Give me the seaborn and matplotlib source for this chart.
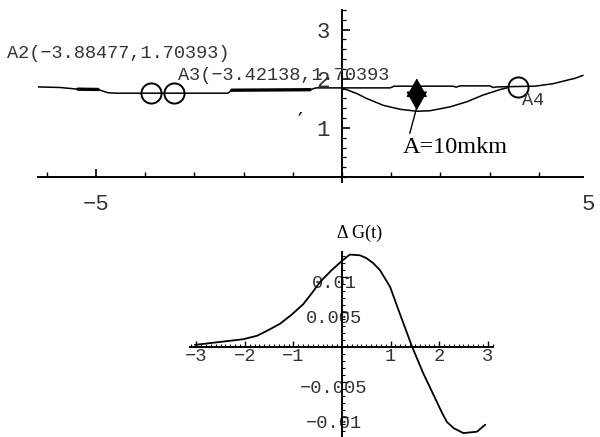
import matplotlib
matplotlib.use("Agg")
import matplotlib.pyplot as plt
import matplotlib.transforms as mtransforms
from matplotlib.ticker import FixedLocator, MultipleLocator
import seaborn as sns

# ---- top panel: surface profile with the 10 mkm dip ----
profile_x = [-6.18, -5.73, -5.37, -4.96, -4.76, -4.61, -2.32, -2.24, -0.65, -0.53,
             0.0, 0.98, 1.06, 2.26, 2.32, 2.40, 3.01, 3.07, 3.15, 3.92,
             4.29, 4.57, 4.74, 4.90]
profile_y = [1.835, 1.823, 1.789, 1.783, 1.717, 1.707, 1.707, 1.768, 1.778, 1.815,
             1.815, 1.815, 1.850, 1.850, 1.830, 1.856, 1.856, 1.823, 1.835, 1.850,
             1.900, 1.970, 2.010, 2.070]
thick_parts = [(2, 4), (7, 9)]  # index ranges drawn heavier

dip_x = [0.0, 0.30, 0.50, 0.84, 1.18, 1.52, 1.79, 2.20, 2.53, 2.87, 3.21, 3.35]
dip_y = [1.815, 1.70, 1.60, 1.46, 1.38, 1.34, 1.35, 1.43, 1.53, 1.67, 1.78, 1.815]

marks_x = [-3.88477, -3.42138, 3.58]
marks_y = [1.70393, 1.70393, 1.83]
mark_names = ["A2(\u22123.88477,1.70393)", "A3(\u22123.42138,1.70393", "A4"]
name_x = [-6.81, -3.33, 3.66]
name_y = [2.52, 2.07, 1.555]

top_xticks = [-5, 5]
top_xlabels = ["\u22125", "5"]
top_yticks = [1, 2, 3]
top_ylabels = ["1", "2", "3"]

# ---- bottom panel: ΔG(t) ----
t_vals = [-3.03, -2.66, -2.04, -1.75, -1.52, -1.28, -1.04, -0.80, -0.62, -0.45,
          -0.21, 0.0, 0.16, 0.37, 0.50, 0.64, 0.78, 0.99, 1.20, 1.44,
          1.67, 2.06, 2.16, 2.30, 2.50, 2.78, 2.95]
dg_vals = [0.0003, 0.0006, 0.0011, 0.0016, 0.0024, 0.0033, 0.0046, 0.0061, 0.0077, 0.0093,
           0.0110, 0.0123, 0.0132, 0.0131, 0.0127, 0.0120, 0.0110, 0.0086, 0.0046, 0.0001,
           -0.0037, -0.0094, -0.0107, -0.0116, -0.0123, -0.0121, -0.0111]

bot_xticks = [-3, -2, -1, 1, 2, 3]
bot_xlabels = ["\u22123", "\u22122", "\u22121", "1", "2", "3"]
bot_yticks = [-0.01, -0.005, 0.005, 0.01]
bot_ylabels = ["\u22120.01", "\u22120.005", "0.005", "0.01"]

sns.set_style("ticks")
plt.rcParams['font.family'] = ['Liberation Mono', 'DejaVu Sans']

W, H = 600, 437
fig = plt.figure(figsize=(W / 100, H / 100), dpi=100)
ax1 = fig.add_axes([38 / W, 1 - 182 / H, 552.4 / W, 172 / H])
ax2 = fig.add_axes([190 / W, 0, 303 / W, 185 / H])

ink = "black"
tick_col = "#333333"

for ax in (ax1, ax2):
    ax.set_facecolor("none")
    for s in ("top", "right"):
        ax.spines[s].set_visible(False)
    for s in ("left", "bottom"):
        ax.spines[s].set_position(("data", 0))
        ax.spines[s].set_linewidth(1.4)
        ax.spines[s].set_color(ink)

# ---- top panel ----
ax1.set_xlim(-6.18, 5.05)
ax1.set_ylim(-0.1, 3.4)
ax1.spines["bottom"].set_bounds(-6.18, 4.9)

sns.lineplot(x=profile_x, y=profile_y, ax=ax1, color=ink, lw=1.1, sort=False, estimator=None)
for i0, i1 in thick_parts:
    sns.lineplot(x=profile_x[i0:i1], y=profile_y[i0:i1], ax=ax1, color=ink, lw=2.4,
                 sort=False, estimator=None)
sns.lineplot(x=dip_x, y=dip_y, ax=ax1, color=ink, lw=1.1, sort=False, estimator=None)
ax1.plot(marks_x, marks_y, ls="none", marker="o", ms=14.5, mfc="none", mec=ink, mew=1.4)

for nx, ny, nm in zip(name_x, name_y, mark_names):
    ax1.text(nx, ny, nm, ha="left", va="center", fontsize=13.4, color=tick_col,
             family="Liberation Mono")

# double arrow showing the amplitude
ax1.annotate("", xy=(1.52, 1.36), xytext=(1.52, 2.01),
             arrowprops=dict(arrowstyle="<|-|>,head_length=0.8,head_width=0.45",
                             mutation_scale=15, color=ink, lw=1.0,
                             shrinkA=0, shrinkB=0))
ax1.annotate("A=10mkm", xy=(1.52, 1.42), xytext=(2.30, 0.61),
             ha="center", va="center", fontsize=17.5, family="Liberation Serif",
             color=ink,
             arrowprops=dict(arrowstyle="-", color=ink, lw=1.0, relpos=(0.06, 1.0),
                             shrinkA=0, shrinkB=0))
ax1.text(-0.85, 1.12, "\u2032", fontsize=15, family="DejaVu Sans", ha="center",
         va="center", color=ink)

ax1.xaxis.set_major_locator(FixedLocator(top_xticks))
ax1.set_xticklabels(top_xlabels)
ax1.xaxis.set_minor_locator(FixedLocator(list(range(-6, 5))))
ax1.yaxis.set_major_locator(FixedLocator(top_yticks))
ax1.set_yticklabels(top_ylabels)
ax1.yaxis.set_minor_locator(MultipleLocator(0.2))
ax1.tick_params(axis="both", which="both", bottom=True, left=True, top=False, right=False)
ax1.tick_params(axis="x", which="major", direction="in", length=6, width=1.2,
                pad=12, labelsize=16, labelcolor=tick_col, color=ink)
ax1.tick_params(axis="x", which="minor", direction="in", length=3.5, width=1.0, color=ink)
ax1.tick_params(axis="y", which="major", direction="in", length=6, width=1.2,
                pad=9, labelsize=16, labelcolor=tick_col, color=ink)
ax1.tick_params(axis="y", which="minor", direction="in", length=3, width=0.9, color=ink)
ax1.xaxis.get_major_ticks()[1].tick1line.set_visible(False)
ax1.set_xlabel("")
ax1.set_ylabel("")

# ---- bottom panel ----
ax2.set_xlim(-3.13, 3.11)
ax2.set_ylim(-0.01286, 0.01357)
sns.lineplot(x=t_vals, y=dg_vals, ax=ax2, color=ink, lw=1.3, sort=False, estimator=None)

ax2.xaxis.set_major_locator(FixedLocator(bot_xticks))
ax2.set_xticklabels(bot_xlabels)
ax2.xaxis.set_minor_locator(MultipleLocator(0.1))
ax2.yaxis.set_major_locator(FixedLocator(bot_yticks))
ax2.set_yticklabels(bot_ylabels)
ax2.yaxis.set_minor_locator(MultipleLocator(0.001))
ax2.tick_params(axis="both", which="both", bottom=True, left=True, top=False, right=False)
ax2.tick_params(axis="x", which="major", direction="in", length=4, width=1.0,
                pad=1, labelsize=13.5, labelcolor=tick_col, color=ink)
ax2.tick_params(axis="x", which="minor", direction="in", length=2, width=0.8, color=ink)
ax2.tick_params(axis="y", which="major", direction="in", length=4, width=1.0,
                pad=5.8, labelsize=13.5, labelcolor=tick_col, color=ink)
ax2.tick_params(axis="y", which="minor", direction="in", length=2, width=0.8, color=ink)
shift = mtransforms.ScaledTranslation(0, -5 / 100, fig.dpi_scale_trans)
for lbl in ax2.get_yticklabels():
    lbl.set_horizontalalignment("center")
    lbl.set_transform(lbl.get_transform() + shift)
ax2.set_xlabel("")
ax2.set_ylabel("")
ax2.text(0.37, 0.0163, "\u0394 G(t)", ha="center", va="center", fontsize=13,
         family="Liberation Serif", color=ink)

fig.savefig("out.png", dpi=100, facecolor="white")
